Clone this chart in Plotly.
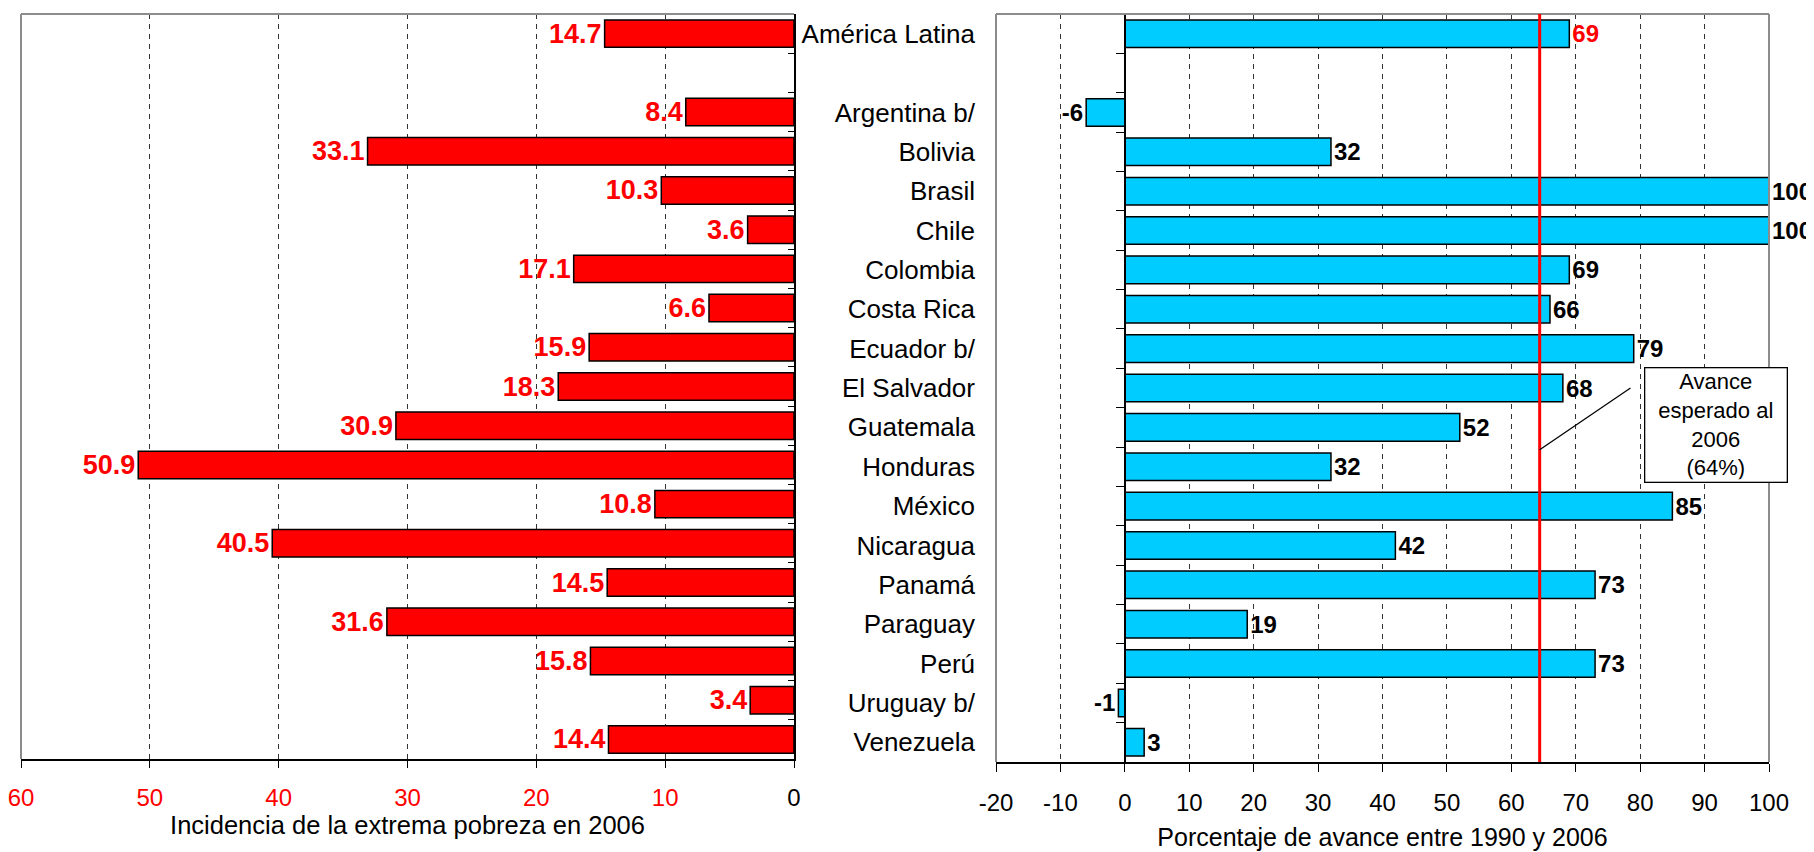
import plotly.graph_objects as go

# ---------------- data ----------------
categories = ["América Latina", "", "Argentina b/", "Bolivia", "Brasil", "Chile", "Colombia",
              "Costa Rica", "Ecuador b/", "El Salvador", "Guatemala", "Honduras", "México",
              "Nicaragua", "Panamá", "Paraguay", "Perú", "Uruguay b/", "Venezuela"]
pobreza_2006 = [14.7, None, 8.4, 33.1, 10.3, 3.6, 17.1, 6.6, 15.9, 18.3, 30.9, 50.9,
                10.8, 40.5, 14.5, 31.6, 15.8, 3.4, 14.4]
avance_1990_2006 = [69, None, -6, 32, 100, 100, 69, 66, 79, 68, 52, 32, 85, 42, 73, 19, 73, -1, 3]
avance_esperado = 64.4
left_ticks = [0, 10, 20, 30, 40, 50, 60]
right_ticks = [-20, -10, 0, 10, 20, 30, 40, 50, 60, 70, 80, 90, 100]

FONT = "Liberation Sans, Arial, sans-serif"
n = len(categories)
pos = list(range(n))
bounds = [i - 0.5 for i in range(n + 1)]
yrange = [n - 0.5, -0.5]

left_text = ["" if v is None else f"{v:.1f}" for v in pobreza_2006]
right_text = ["" if v is None else f"{v:.0f}" for v in avance_1990_2006]
right_text_colors = ["red" if c == "América Latina" else "black" for c in categories]

fig = go.Figure()

fig.add_trace(go.Bar(
    x=pobreza_2006, y=pos, orientation="h", xaxis="x", yaxis="y",
    marker=dict(color="#FF0000", line=dict(color="black", width=1.5)),
    width=0.7, text=left_text, textposition="outside", constraintext="none",
    textfont=dict(family=FONT, size=27, color="#FF0000", weight="bold"),
    cliponaxis=False, showlegend=False, hoverinfo="skip"))

fig.add_trace(go.Bar(
    x=avance_1990_2006, y=pos, orientation="h", xaxis="x2", yaxis="y2",
    marker=dict(color="#00CCFF", line=dict(color="black", width=1.5)),
    width=0.7, text=right_text, textposition="outside", constraintext="none",
    textfont=dict(family=FONT, size=24, color=right_text_colors, weight="bold"),
    cliponaxis=False, showlegend=False, hoverinfo="skip"))

# invisible trace to host the zero-line category axis of the right panel
fig.add_trace(go.Scatter(x=[0], y=[0], xaxis="x2", yaxis="y3", mode="markers",
                         marker=dict(opacity=0), showlegend=False, hoverinfo="skip"))

# page body has an 8px default margin: figure is drawn from (8, 8)
W, H = 1806, 844
ML, MR, MT, MB = 13, 45, 6, 90
PW = W - ML - MR
L_DOM = [0.0, (794 - 8 - ML) / PW]
R_DOM = [(996 - 8 - ML) / PW, 1.0]
zero_pos = R_DOM[0] + (R_DOM[1] - R_DOM[0]) * (0 - right_ticks[0]) / (right_ticks[-1] - right_ticks[0])

left_ticktext = [f"<span style='color:black'>{t}</span>" if t == 0 else str(t) for t in left_ticks]
right_ticktext = [str(t) for t in right_ticks]

fig.update_layout(
    width=W, height=H,
    margin=dict(l=ML, r=MR, t=MT, b=MB, autoexpand=False),
    paper_bgcolor="white", plot_bgcolor="white",
    font=dict(family=FONT, color="black"),
    bargap=0.3,
    xaxis=dict(domain=L_DOM, range=[60, 0], anchor="y", automargin=False,
               tickmode="array", tickvals=left_ticks, ticktext=left_ticktext,
               tickfont=dict(size=24, color="#FF0000"), ticklabeloverflow="allow",
               ticks="outside", ticklen=7, tickcolor="black", tickwidth=1.3,
               ticklabelstandoff=9,
               showline=True, linecolor="black", linewidth=1.5,
               showgrid=True, gridcolor="#333333", gridwidth=1, griddash="5px,5px",
               zeroline=False,
               title=dict(text="Incidencia de la extrema pobreza en 2006",
                          font=dict(size=25.5, color="black"), standoff=5)),
    yaxis=dict(domain=[0.004, 1], range=yrange, anchor="x", side="right", automargin=False,
               tickmode="array", tickvals=bounds, showticklabels=False,
               ticks="inside", ticklen=6, tickcolor="black",
               showline=True, linecolor="black", linewidth=1.5,
               showgrid=False, zeroline=False),
    xaxis2=dict(domain=R_DOM, range=[right_ticks[0], right_ticks[-1]], anchor="y2",
                automargin=False,
                tickmode="array", tickvals=right_ticks, ticktext=right_ticktext,
                tickfont=dict(size=24, color="black"), ticklabeloverflow="allow",
                ticks="outside", ticklen=8, tickcolor="black", tickwidth=1.3,
                ticklabelstandoff=10,
                showline=True, linecolor="black", linewidth=1.5,
                showgrid=True, gridcolor="#333333", gridwidth=1, griddash="5px,5px",
                zeroline=False,
                title=dict(text="Porcentaje de avance entre 1990 y 2006",
                           font=dict(size=25, color="black"), standoff=14)),
    yaxis2=dict(domain=[0, 1], range=yrange, anchor="x2", side="left", automargin=False,
                tickmode="array", tickvals=pos, ticktext=categories,
                tickfont=dict(size=26, color="black"),
                ticks="", ticklabelstandoff=20,
                showline=False, showgrid=False, zeroline=False),
    yaxis3=dict(range=yrange, overlaying="y2", anchor="free", position=zero_pos, side="left",
                automargin=False,
                tickmode="array", tickvals=bounds, showticklabels=False,
                ticks="outside", ticklen=8, tickcolor="black",
                showline=True, linecolor="black", linewidth=1.5,
                showgrid=False, zeroline=False),
)

GRAY = "#8C8C8C"
# plot-area borders (gray)
fig.add_shape(type="line", xref="x domain", yref="y domain", x0=0, x1=1, y0=1, y1=1,
              line=dict(color=GRAY, width=2))
fig.add_shape(type="line", xref="x domain", yref="y domain", x0=0, x1=0, y0=0, y1=1,
              line=dict(color=GRAY, width=2))
fig.add_shape(type="line", xref="x2 domain", yref="y2 domain", x0=0, x1=1, y0=1, y1=1,
              line=dict(color=GRAY, width=2))
fig.add_shape(type="line", xref="x2 domain", yref="y2 domain", x0=0, x1=0, y0=0, y1=1,
              line=dict(color=GRAY, width=2))
fig.add_shape(type="line", xref="x2 domain", yref="y2 domain", x0=1, x1=1, y0=0, y1=1,
              line=dict(color=GRAY, width=2))

# expected-progress line
fig.add_shape(type="line", xref="x2", yref="y2 domain", x0=avance_esperado, x1=avance_esperado,
              y0=0, y1=1, line=dict(color="#FF0000", width=3))

# callout pointer and box
fig.add_shape(type="line", xref="x2", yref="y2", x0=avance_esperado, y0=10.57, x1=78.5, y1=9.0,
              line=dict(color="black", width=1.3))
fig.add_annotation(xref="x2", yref="y2", x=91.7, y=9.95,
                   text="Avance<br>esperado al<br>2006<br>(64%)", showarrow=False,
                   font=dict(family=FONT, size=22, color="black"), align="center",
                   bgcolor="white", bordercolor="black", borderwidth=1.3, borderpad=2,
                   width=137, height=109, valign="middle")

fig.write_html("out.html")
